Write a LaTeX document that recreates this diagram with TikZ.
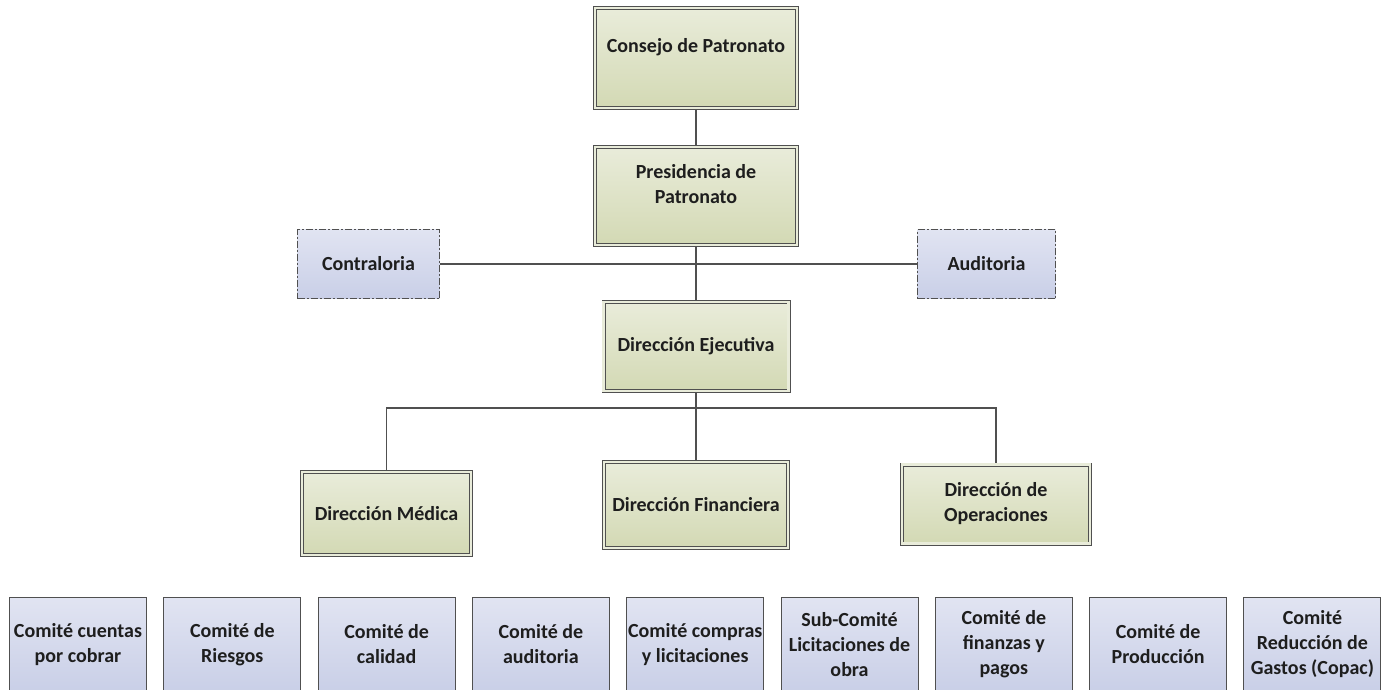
\documentclass[tikz,border=0pt]{standalone}
\usepackage{fontspec}
\setmainfont{Carlito}
\usetikzlibrary{shadows,backgrounds}
\definecolor{cLine}{HTML}{505050}
\definecolor{cGtop}{HTML}{E9ECDA}
\definecolor{cGbot}{HTML}{D3D9B4}
\definecolor{cBtop}{HTML}{E1E4F2}
\definecolor{cBbot}{HTML}{C9CFE7}
\definecolor{cText}{HTML}{1E1E1E}

\tikzset{
  boxtext/.style={align=center, inner sep=0pt, text=cText,
    font=\fontsize{20}{25}\selectfont\bfseries},
  dirbox/.style={boxtext, draw=cLine, line width=0.9pt, double=cGtop,
    double distance=2.2pt, top color=cGtop, bottom color=cGbot,
    drop shadow={shadow xshift=1.5pt, shadow yshift=-1.5pt, opacity=0.25}},
  staffbox/.style={boxtext, draw=cLine, line width=1pt,
    dash pattern=on 7pt off 2pt on 2pt off 2pt,
    top color=cBtop, bottom color=cBbot},
  combox/.style={boxtext, draw=cLine, line width=1pt,
    top color=cBtop, bottom color=cBbot,
    minimum width=137pt, minimum height=94pt},
  link/.style={draw=cLine, line width=1.3pt},
}

\begin{document}
\begin{tikzpicture}[x=1pt,y=-1pt]
  \useasboundingbox (0,0) rectangle (1383,690);
  \clip (0,0) rectangle (1383,690);

  \coordinate (bus) at (696,408);

  % top of the chart
  \node[dirbox, minimum width=202pt, minimum height=100pt] (consejo) at (696,58)
    {Consejo de Patronato\\\mbox{}};
  \node[dirbox, minimum width=202pt, minimum height=98pt] (presid) at (696,196)
    {Presidencia de\\Patronato\\\mbox{}};
  \node[staffbox, minimum width=142pt, minimum height=69pt] (contra) at (368.5,264)
    {Contraloria};
  \node[staffbox, minimum width=138pt, minimum height=69pt] (audit) at (986.5,264)
    {Auditoria};
  \node[dirbox, minimum width=185pt, minimum height=89pt] (ejec) at (696,346.5)
    {Dirección Ejecutiva};

  % direcciones
  \node[dirbox, minimum width=169pt, minimum height=83pt] (medica) at (386.5,513.5)
    {Dirección Médica};
  \node[dirbox, minimum width=184pt, minimum height=86pt] (finan) at (696,505)
    {Dirección Financiera};
  \node[dirbox, minimum width=188pt, minimum height=79pt] (oper) at (996,504)
    {Dirección de\\Operaciones};

  % connectors
  \begin{scope}[on background layer]
    \draw[link] (consejo.south) -- (presid.north);
    \draw[link] (presid.south) -- (ejec.north);
    \draw[link] (contra.east) -- (audit.west);
    \draw[link] (ejec.south) -- (bus);
    \draw[link] (bus) -| (medica.north);
    \draw[link] (bus) -| (oper.north);
    \draw[link] (bus) -- (finan.north);
  \end{scope}

  % comites
  \foreach \i/\txt in {0/{Comité cuentas\\por cobrar},
                       1/{Comité de\\Riesgos},
                       2/{Comité de\\calidad},
                       3/{Comité de\\auditoria},
                       4/{Comité compras\\y licitaciones},
                       5/{Sub-Comité\\Licitaciones de\\obra},
                       6/{Comité de\\finanzas y\\pagos},
                       7/{Comité de\\Producción},
                       8/{Comité\\Reducción de\\Gastos (Copac)}}{
      \node[combox] (com\i) at ({78+154.3*\i},644.5) {\txt};
    }
\end{tikzpicture}
\end{document}
